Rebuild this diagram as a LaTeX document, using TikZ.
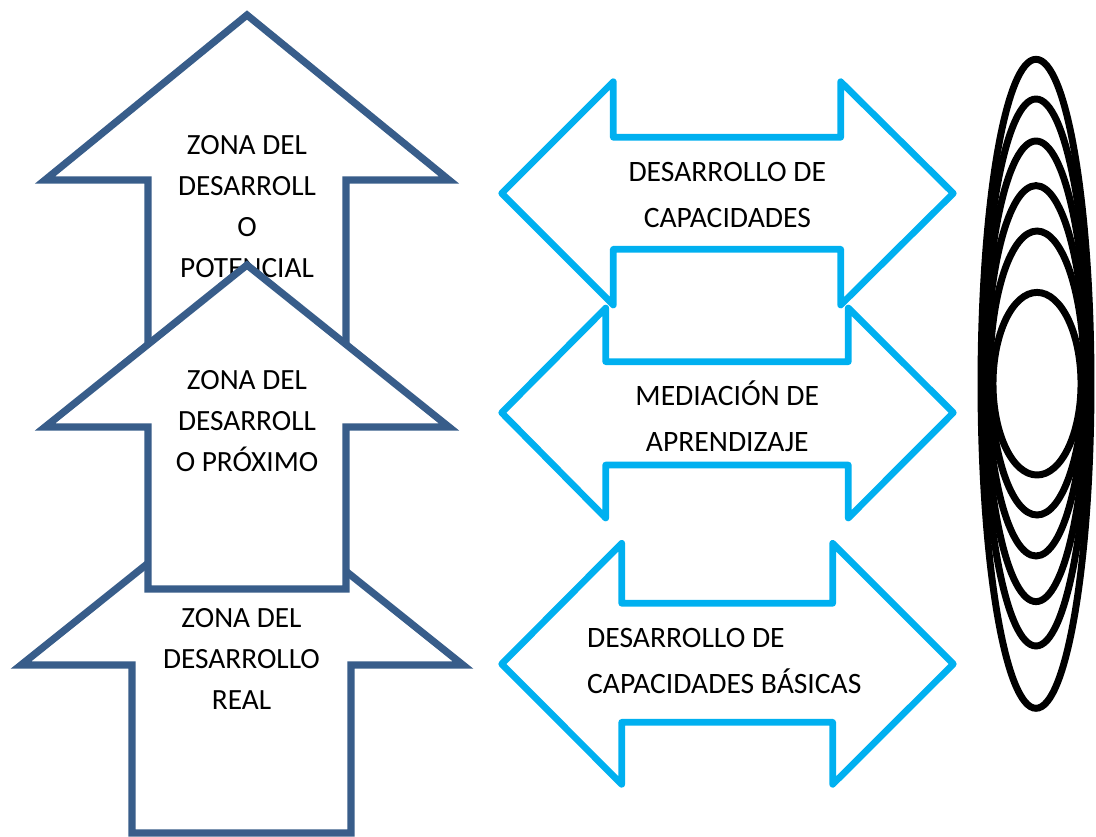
\documentclass[tikz,border=0pt]{standalone}
\usepackage{fontspec}
\setmainfont{Carlito}

\definecolor{zonablue}{RGB}{56,93,138}
\definecolor{mediacyan}{RGB}{0,176,240}

\tikzset{every picture/.style={line width=0.75pt}}
\tikzset{
	uparrow/.style={draw=zonablue, fill=white, line width=5.4pt, line join=miter},
	twoarrow/.style={draw=mediacyan, fill=white, line width=5pt, line join=round},
	ring/.style={draw=black, line width=5.2pt},
	zonatext/.style={align=center, inner sep=0pt, font=\fontsize{22}{30.75}\selectfont},
	mediatext/.style={align=center, inner sep=0pt, font=\fontsize{22.2}{34.5}\selectfont},
}

\begin{document}
\begin{tikzpicture}[x=0.75pt,y=0.75pt,yscale=-1,xscale=1]
	\useasboundingbox (0,0) rectangle (1096,836);

	%Shape: Up Arrow (potencial)
	\draw [uparrow] (247,15) -- (449,180) -- (346,180) -- (346,400) -- (148,400) -- (148,180) -- (45,180) -- cycle ;
	% Text Node
	\draw (247,206.5) node [zonatext] (potencial) {ZONA DEL\\DESARROLL\\O\\POTENCIAL};

	%Shape: Up Arrow (real)
	\draw [uparrow] (242,488) -- (463,665) -- (351,665) -- (351,833) -- (132,833) -- (132,665) -- (21,665) -- cycle ;
	% Text Node
	\draw (241.5,659) node [zonatext] (real) {ZONA DEL\\DESARROLLO\\REAL};

	%Shape: Up Arrow (proximo)
	\draw [uparrow] (247,265) -- (449,427) -- (346,427) -- (346,589) -- (148,589) -- (148,427) -- (45,427) -- cycle ;
	% Text Node
	\draw (247,421) node [zonatext] (proximo) {ZONA DEL\\DESARROLL\\O PRÓXIMO};

	%Shape: Left-Right Arrow (capacidades)
	\draw [twoarrow] (501.7,193.3) -- (613.3,81.7) -- (613.3,137.3) -- (840.7,137.3) -- (840.7,81.7) -- (953.3,193.3) -- (840.7,305) -- (840.7,249.3) -- (613.3,249.3) -- (613.3,305) -- cycle ;
	%Shape: Left-Right Arrow (mediacion)
	\draw [twoarrow] (501.7,412.7) -- (605.7,308) -- (605.7,361.7) -- (848.3,361.7) -- (848.3,308) -- (953.3,412.7) -- (848.3,518) -- (848.3,465) -- (605.7,465) -- (605.7,518) -- cycle ;
	%Shape: Left-Right Arrow (basicas)
	\draw [twoarrow] (501.7,664) -- (621.7,543.3) -- (621.7,603.3) -- (832.7,603.3) -- (832.7,543.3) -- (953.3,664) -- (832.7,784.3) -- (832.7,722.3) -- (621.7,722.3) -- (621.7,784.3) -- cycle ;

	% Text Node
	\draw (727.3,194.7) node [mediatext] (capacidades) {DESARROLLO DE\\CAPACIDADES};
	% Text Node
	\draw (727.3,416) node [mediatext] (mediacion) {MEDIACIÓN DE\\APRENDIZAJE};
	% Text Node
	\draw (586.7,661.3) node [mediatext, align=left, anchor=west] (basicas) {DESARROLLO DE\\CAPACIDADES BÁSICAS};

	%Shape: Ellipses
	\draw [ring] (1036,383.8) ellipse [x radius=55, y radius=324.5] ;
	\draw [ring] (1036,372.5) ellipse [x radius=53, y radius=273.5] ;
	\draw [ring] (1036,371.3) ellipse [x radius=51, y radius=230.3] ;
	\draw [ring] (1036,370.8) ellipse [x radius=49, y radius=185.2] ;
	\draw [ring] (1037,373) ellipse [x radius=47, y radius=142] ;
	\draw [ring] (1037,383.7) ellipse [x radius=44, y radius=91.3] ;

\end{tikzpicture}
\end{document}
